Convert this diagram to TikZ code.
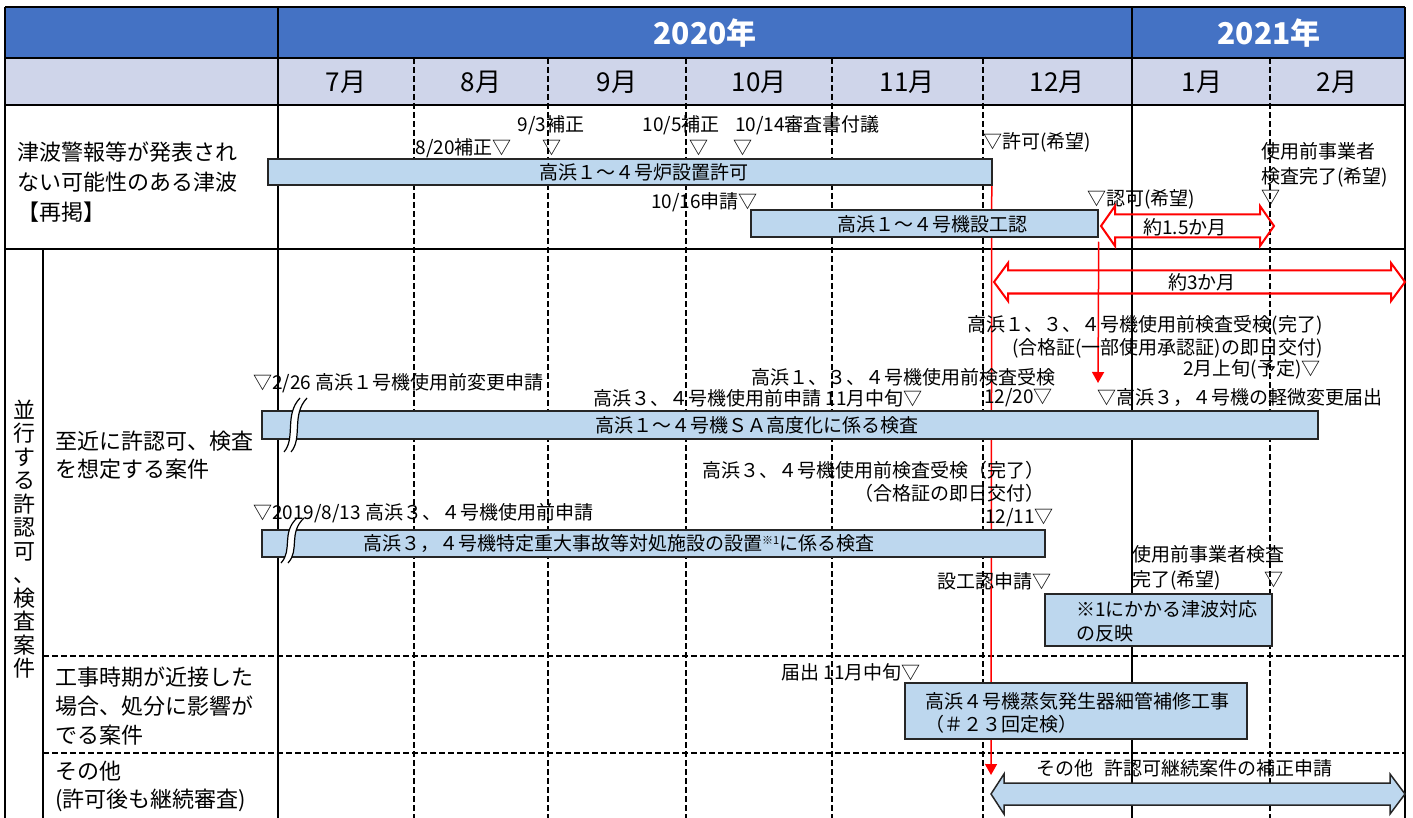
\documentclass[tikz,border=0pt]{standalone}
\usepackage{fontspec}
\setmainfont{Noto Sans CJK JP}
\usetikzlibrary{arrows.meta}
\definecolor{hdrblue}{HTML}{4472C4}
\definecolor{hdrlight}{HTML}{CFD5EA}
\definecolor{barblue}{HTML}{BDD7EE}
\definecolor{baredge}{HTML}{262626}
\pgfdeclarelayer{bg}
\pgfdeclarelayer{mid}
\pgfsetlayers{bg,mid,main}
\begin{document}
\begin{tikzpicture}[x=1pt,y=-1pt,
  gs/.style={line width=2pt, black},
  gd/.style={line width=1.5pt, black, dash pattern=on 6pt off 3pt},
  bar/.style={draw=baredge, line width=1.5pt, fill=barblue, inner sep=0pt},
  lbl/.style={inner sep=0pt, font=\fontsize{19}{23}\selectfont},
  big/.style={inner sep=0pt, align=left},
  mon/.style={inner sep=0pt, font=\fontsize{26}{30}\selectfont},
  yr/.style={inner sep=0pt, font=\fontsize{30}{34}\selectfont\bfseries, text=white},
  redln/.style={red, line width=1.5pt, -{Triangle[width=12pt,length=11pt]}},
  redarr/.style={draw=red, line width=2pt, line join=miter},
  brk/.style={draw=black, line width=1.2pt}]
\useasboundingbox (0,0) rectangle (1413,818);

\begin{pgfonlayer}{bg}
\fill[hdrblue] (5,7) rectangle (1405,58);
\fill[hdrlight] (5,58) rectangle (1405,105);
\foreach \x in {414,548,686,832,983,1270} \draw[gd] (\x,58) -- (\x,818);
\draw[gd] (43,656) -- (1405,656);
\draw[gd] (43,753) -- (1405,753);
\draw[gs] (5,7) -- (1405,7);
\draw[gs] (5,58) -- (1405,58);
\draw[gs] (5,105) -- (1405,105);
\draw[gs] (5,249) -- (1405,249);
\draw[gs] (5,7) -- (5,818);
\draw[gs] (43,249) -- (43,818);
\draw[gs] (278,7) -- (278,818);
\draw[gs] (1132,7) -- (1132,818);
\draw[gs] (1405,7) -- (1405,818);
\end{pgfonlayer}

% header
\node[yr] (y2020) at (705,33) {2020年};
\node[yr] (y2021) at (1269,33) {2021年};
\node[mon] (m7) at (346,82) {7月};
\node[mon] (m8) at (481,82) {8月};
\node[mon] (m9) at (617,82) {9月};
\node[mon] (m10) at (759,82) {10月};
\node[mon] (m11) at (907,82) {11月};
\node[mon] (m12) at (1057,82) {12月};
\node[mon] (m1) at (1202,82) {1月};
\node[mon] (m2) at (1337,82) {2月};

% left labels
\node[big, anchor=west, font=\fontsize{22}{30}\selectfont] (lab1) at (17,182) {津波警報等が発表され\\ない可能性のある津波\\【再掲】};
\node[inner sep=0pt, align=center, font=\fontsize{22}{23.5}\selectfont] (labv) at (24,539) {並\\行\\す\\る\\許\\認\\可\\、\\検\\査\\案\\件};
\node[big, anchor=west, font=\fontsize{22}{28}\selectfont] (lab2) at (55,455) {至近に許認可、検査\\を想定する案件};
\node[big, anchor=west, font=\fontsize{22}{29}\selectfont] (lab3) at (55,706) {工事時期が近接した\\場合、処分に影響が\\でる案件};
\node[big, anchor=west, font=\fontsize{22}{28}\selectfont] (lab4) at (55,786) {その他\\(許可後も継続審査)};

% bars
\node[bar, minimum width=724pt, minimum height=26pt] (b1) at (630,172) {};
\node[bar, minimum width=347pt, minimum height=27pt] (b2) at (924.5,223.5) {};
\node[bar, minimum width=1056pt, minimum height=28pt] (b3) at (790,425) {};
\node[bar, minimum width=783pt, minimum height=27pt] (b4) at (653.5,543.5) {};
\node[bar, minimum width=227pt, minimum height=52pt] (b5) at (1158.5,620) {};
\node[bar, minimum width=342pt, minimum height=56pt] (b6) at (1076,711) {};

\node[lbl] (b1t) at (644,172) {高浜１～４号炉設置許可};
\node[lbl] (b2t) at (932,224) {高浜１～４号機設工認};
\node[lbl] (b3t) at (757,425) {高浜１～４号機ＳＡ高度化に係る検査};
\node[lbl, anchor=west] (b4t) at (363,543) {高浜３，４号機特定重大事故等対処施設の設置{\fontsize{11}{11}\selectfont\raisebox{6pt}{※1}}に係る検査};
\node[lbl, anchor=west, align=left, font=\fontsize{19}{24}\selectfont] (b5t) at (1076,621) {※1にかかる津波対応\\の反映};
\node[lbl, anchor=west, align=left, font=\fontsize{19}{23}\selectfont] (b6t) at (925,713) {高浜４号機蒸気発生器細管補修工事\\（＃２３回定検）};

% break marks
\fill[white] (300,398) .. controls (284,415) and (296,438) .. (284,452) -- (291,452) .. controls (303,438) and (291,415) .. (307,398) -- cycle;
\draw[brk] (300,398) .. controls (284,415) and (296,438) .. (284,452);
\draw[brk] (307,398) .. controls (291,415) and (303,438) .. (291,452);
\fill[white] (297,518) .. controls (281,533) and (293,550) .. (281,563) -- (288,563) .. controls (300,550) and (288,533) .. (304,518) -- cycle;
\draw[brk] (297,518) .. controls (281,533) and (293,550) .. (281,563);
\draw[brk] (304,518) .. controls (288,533) and (300,550) .. (288,563);

% row 1 labels
\node[lbl] (n1) at (551,125) {9/3補正};
\node[lbl] (n2) at (681,125) {10/5補正};
\node[lbl, anchor=west] (n3) at (735,125) {10/14審査書付議};
\node[lbl, anchor=east] (n4) at (512,148) {8/20補正▽};
\node[lbl] (n5) at (552,148) {▽};
\node[lbl] (n6) at (699,148) {▽};
\node[lbl] (n7) at (743,148) {▽};
\node[lbl, anchor=west] (n8) at (983,142) {▽許可(希望)};
\node[lbl, anchor=east] (n9) at (758,202) {10/16申請▽};
\node[lbl, anchor=west, align=left, font=\fontsize{19}{25}\selectfont] (n10) at (1261,165) {使用前事業者\\検査完了(希望)};
\node[lbl] (n11) at (1271,198) {▽};
\node[lbl, anchor=west] (n12) at (1087,199) {▽認可(希望)};

% red arrows
\draw[redarr] (1101,226) -- (1115,206) -- (1115,214.5) -- (1260,214.5) -- (1260,206) -- (1274,226) -- (1260,246) -- (1260,237.5) -- (1115,237.5) -- (1115,246) -- cycle;
\node[lbl] (a1t) at (1185,227) {約1.5か月};
\draw[redarr] (994,282) -- (1008,263) -- (1008,270.5) -- (1391,270.5) -- (1391,263) -- (1405,282) -- (1391,301) -- (1391,293.5) -- (1008,293.5) -- (1008,301) -- cycle;
\node[lbl] (a2t) at (1202,282) {約3か月};

% row 2 labels
\node[lbl, anchor=east] (p1) at (1323,325) {高浜１、３、４号機使用前検査受検(完了)};
\node[lbl, anchor=east] (p2) at (1323,348) {(合格証(一部使用承認証)の即日交付)};
\node[lbl, anchor=east] (p3) at (1321,369) {2月上旬(予定)▽};
\node[lbl, anchor=east] (p4) at (1056,377) {高浜１、３、４号機使用前検査受検};
\node[lbl, anchor=east] (p5) at (923,398) {高浜３、４号機使用前申請 11月中旬▽};
\node[lbl, anchor=east] (p6) at (1053,398) {12/20▽};
\node[lbl, anchor=west] (p7) at (1097,398) {▽高浜３，４号機の軽微変更届出};
\node[lbl, anchor=west] (p8) at (253,383) {▽2/26 高浜１号機使用前変更申請};
\node[lbl, anchor=east] (q1) at (1045,470) {高浜３、４号機使用前検査受検（完了）};
\node[lbl, anchor=east] (q2) at (1045,493) {（合格証の即日交付）};
\node[lbl, anchor=east] (q3) at (1054,518) {12/11▽};
\node[lbl, anchor=west] (q4) at (253,513) {▽2019/8/13 高浜３、４号機使用前申請};
\node[lbl, anchor=west, align=left, font=\fontsize{19}{25}\selectfont] (q5) at (1132,568) {使用前事業者検査\\完了(希望)};
\node[lbl] (q6) at (1274,580) {▽};
\node[lbl, anchor=east] (q7) at (1052,581) {設工認申請▽};

% row 3, 4
\node[lbl, anchor=east] (s1) at (921,672) {届出 11月中旬▽};
\node[lbl, anchor=west] (s2) at (1036,768) {その他\hspace{11pt}許認可継続案件の補正申請};
\draw[draw=baredge, line width=1.5pt, fill=barblue] (991,794) -- (1004,774) -- (1004,783) -- (1390,783) -- (1390,774) -- (1405,794) -- (1390,814) -- (1390,805) -- (1004,805) -- (1004,814) -- cycle;

% red connectors (behind bars)
\coordinate (r1end) at (991,775);
\coordinate (r2end) at (1098,383);
\begin{pgfonlayer}{mid}
\draw[redln] ([xshift=-1pt]b1.south east) -- (r1end);
\draw[redln, shorten <=4pt] (b2.south east) -- (r2end);
\end{pgfonlayer}
\end{tikzpicture}
\end{document}
